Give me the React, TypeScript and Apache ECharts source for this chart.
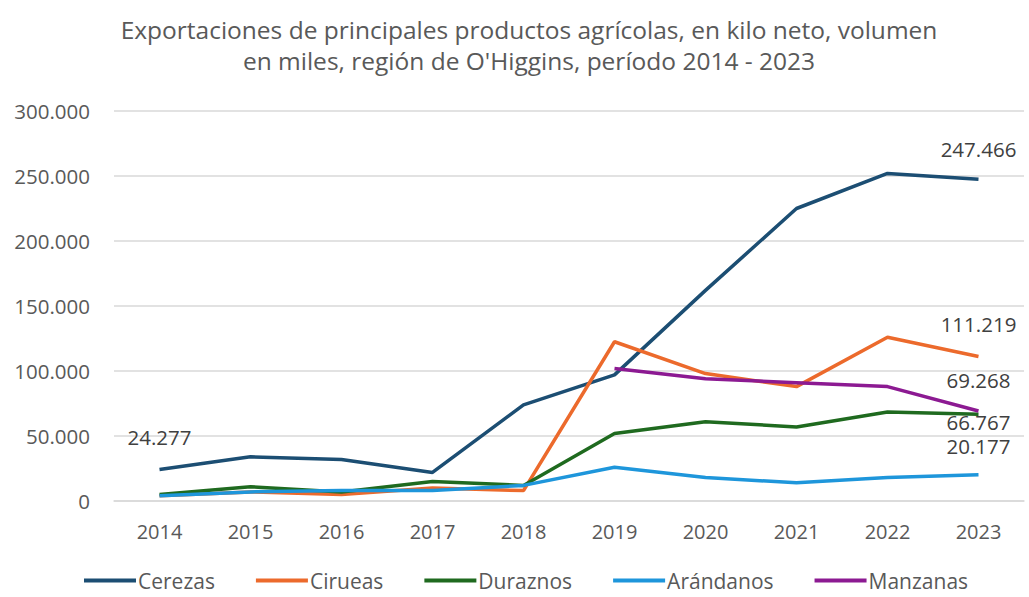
import React, { useEffect, useRef } from "react";
import * as echarts from "echarts";

const years = ["2014", "2015", "2016", "2017", "2018", "2019", "2020", "2021", "2022", "2023"];
const cerezas = [24277, 34000, 32000, 22000, 74000, 97000, 162000, 225000, 252000, 247466];
const cirueas = [4000, 7000, 5000, 10000, 8000, 122500, 98000, 88000, 126000, 111219];
const duraznos = [5000, 11000, 7000, 15000, 12000, 52000, 61000, 57000, 68500, 66767];
const arandanos = [4000, 7000, 8000, 8000, 12000, 26000, 18000, 14000, 18000, 20177];
const manzanas = [null, null, null, null, null, 102000, 94000, 91000, 88000, 69268];
const yTicks = [0, 50000, 100000, 150000, 200000, 250000, 300000];

const fmt = (v: number) => Math.round(v).toString().replace(/\B(?=(\d{3})+(?!\d))/g, ".");

const FONT = "'Open Sans', 'Liberation Sans', sans-serif";
const TXT = "#595959";

export default function App() {
  const ref = useRef<HTMLDivElement>(null);
  useEffect(() => {
    document.body.style.margin = "0";
    const chart = echarts.init(ref.current!, null, { renderer: "svg" });
    const lbl = (position: string, distance: number) => ({
      show: true,
      position,
      distance,
      formatter: (p: any) => fmt(p.value),
      color: "#404040",
      fontSize: 20.5,
      lineHeight: 16,
      fontFamily: FONT,
    });
    const mk = (
      name: string,
      data: (number | null)[],
      color: string,
      labels: Record<number, any>
    ) => ({
      name,
      type: "line",
      data: data.map((v, i) => (labels[i] ? { value: v, label: labels[i] } : v)),
      symbol: "circle",
      symbolSize: 0,
      showSymbol: true,
      lineStyle: { color, width: 3.5 },
      itemStyle: { color },
      label: { show: false },
      emphasis: { disabled: true },
    });
    chart.setOption({
      animation: false,
      textStyle: { fontFamily: FONT },
      title: {
        text: "Exportaciones de principales productos agrícolas, en kilo neto, volumen\nen miles, región de O'Higgins, período 2014 - 2023",
        left: 524,
        top: 9,
        textAlign: "center",
        textStyle: { color: TXT, fontSize: 24.5, fontWeight: "normal", lineHeight: 31, fontFamily: FONT },
      },
      legend: {
        bottom: 1,
        left: 79,
        itemWidth: 52,
        itemHeight: 4,
        itemGap: 41,
        icon: "rect",
        textStyle: { color: TXT, fontSize: 21, fontFamily: FONT, padding: [0, 0, 0, -3] },
        data: ["Cerezas", "Cirueas", "Duraznos", "Arándanos", "Manzanas"],
      },
      grid: { left: 114, right: 5, top: 111, bottom: 96, containLabel: false },
      xAxis: {
        type: "category",
        data: years,
        boundaryGap: true,
        axisLine: { lineStyle: { color: "#d9d9d9", width: 1.5 } },
        axisTick: { show: false },
        axisLabel: { color: TXT, fontSize: 20, margin: 20, fontFamily: FONT },
      },
      yAxis: {
        type: "value",
        min: yTicks[0],
        max: yTicks[yTicks.length - 1],
        interval: yTicks[1] - yTicks[0],
        axisLine: { show: false },
        axisTick: { show: false },
        splitLine: { lineStyle: { color: "#d9d9d9", width: 1.5 } },
        axisLabel: { color: TXT, fontSize: 20.5, margin: 24, fontFamily: FONT, formatter: (v: number) => fmt(v) },
      },
      series: [
        mk("Cerezas", cerezas, "#1c4e73", { 0: lbl("top", 24), 9: lbl("top", 22) }),
        mk("Cirueas", cirueas, "#ec6a2c", { 9: lbl("top", 24) }),
        mk("Duraznos", duraznos, "#1f6a1f", { 9: lbl("bottom", 0) }),
        mk("Arándanos", arandanos, "#1e96db", { 9: lbl("top", 21) }),
        mk("Manzanas", manzanas, "#8c1a92", { 9: lbl("top", 23) }),
      ],
    });
    return () => chart.dispose();
  }, []);
  return <div ref={ref} style={{ width: 1029, height: 597 }} />;
}
